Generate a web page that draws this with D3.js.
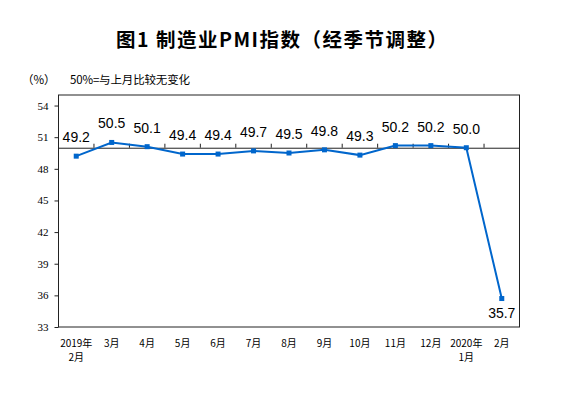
<!DOCTYPE html>
<html><head><meta charset="utf-8">
<script src="https://cdn.jsdelivr.net/npm/d3@7"></script>
<style>body{margin:0;background:#fff}</style>
</head><body>
<svg id="c" width="561" height="402"></svg>
<script>
const categories = [["2019年","2月"],["3月"],["4月"],["5月"],["6月"],["7月"],["8月"],["9月"],["10月"],["11月"],["12月"],["2020年","1月"],["2月"]];
const values = [49.2,50.5,50.1,49.4,49.4,49.7,49.5,49.8,49.3,50.2,50.2,50.0,35.7];
const yTicks = [33,36,39,42,45,48,51,54];
const title = "图1 制造业PMI指数（经季节调整）";
const unitLabel = "（%）";
const note = "50%=与上月比较无变化";

const svg = d3.select("#c");
const L=58.5, R=519.5, T=95, B=327;
const idx = categories.map((d,i)=>i);
const x = d3.scaleBand().domain(idx).range([L,R]).padding(0);
const y = d3.scaleLinear().domain([33,55]).range([B,T]);
const cx = i => x(i)+x.bandwidth()/2;

svg.append("text").attr("x",116).attr("y",47)
  .attr("font-family","Noto Sans CJK SC").attr("font-weight","bold").attr("font-size",19.5)
  .attr("textLength",331).attr("lengthAdjust","spacing")
  .text(title);
svg.append("text").attr("x",22).attr("y",84).attr("font-family","Noto Sans CJK SC").attr("font-size",11.5).text(unitLabel);
svg.append("text").attr("x",70).attr("y",84).attr("font-family","Noto Sans CJK SC").attr("font-size",11.5)
  .attr("textLength",120).attr("lengthAdjust","spacing").text(note);

// frame
svg.append("rect").attr("x",L).attr("y",T).attr("width",R-L).attr("height",B-T)
  .attr("fill","none").attr("stroke","#222").attr("stroke-width",1);

// y axis
const yAxis = svg.append("g").attr("transform",`translate(${L},0)`)
  .call(d3.axisLeft(y).tickValues(yTicks).tickSize(4).tickPadding(6).tickFormat(d3.format("d")));
yAxis.select(".domain").remove();
yAxis.selectAll("line").attr("stroke","#222");
yAxis.selectAll("text").attr("font-family","Liberation Serif").attr("font-size",11).attr("fill","#000");

// 50 line with category boundary ticks
const xAxis = svg.append("g").attr("transform",`translate(0,${y(50)})`)
  .call(d3.axisTop(x).tickSize(0).tickFormat(""));
xAxis.select(".domain").attr("stroke","#222");
xAxis.selectAll(".tick").remove();
svg.append("g").selectAll("line").data(idx.slice(1)).join("line")
  .attr("x1",i=>x(i)).attr("x2",i=>x(i)).attr("y1",y(50)).attr("y2",y(50)-4)
  .attr("stroke","#222");

// x labels
const xl = svg.append("g").selectAll("text").data(idx).join("text")
  .attr("text-anchor","middle").attr("font-family","Noto Sans CJK SC").attr("font-size",10).attr("fill","#000")
  .attr("x",cx).attr("y",347);
xl.each(function(i){
  const t=d3.select(this);
  categories[i].forEach((s,k)=>t.append("tspan").attr("x",cx(i)).attr("dy",k?14:0).text(s));
});

// line
const color="#0066cc";
svg.append("path").datum(idx).attr("fill","none").attr("stroke",color).attr("stroke-width",2)
  .attr("d",d3.line().x(cx).y(i=>y(values[i])));
svg.append("g").selectAll("rect").data(idx).join("rect")
  .attr("x",i=>cx(i)-2.5).attr("y",i=>y(values[i])-2.5).attr("width",5).attr("height",5).attr("fill",color);

// data labels
svg.append("g").selectAll("text").data(idx).join("text")
  .attr("text-anchor","middle").attr("font-family","Liberation Sans").attr("font-size",14).attr("fill","#000")
  .attr("x",cx).attr("y",i=> i===12 ? y(values[i])+19 : y(values[i])-14)
  .text(i=>d3.format(".1f")(values[i]));
</script>
</body></html>
